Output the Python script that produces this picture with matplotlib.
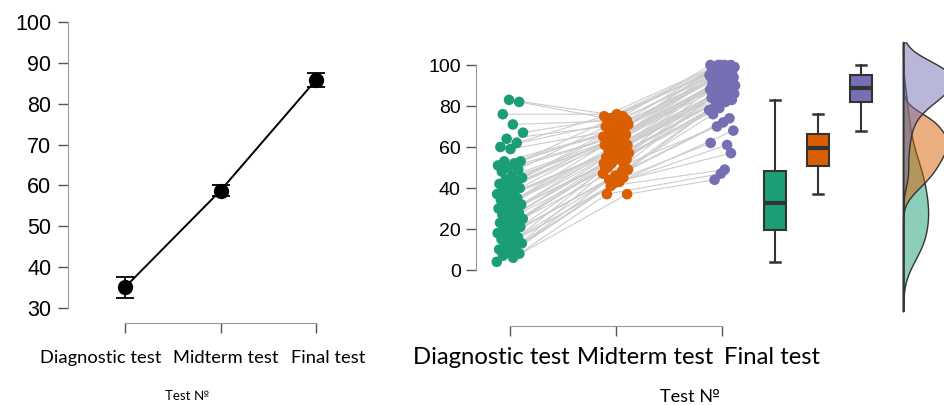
import numpy as np
import matplotlib.pyplot as plt
from matplotlib.colors import to_rgba

tests = ["Diagnostic test", "Midterm test", "Final test"]

# one score per student, students in the same order in all three lists
diagnostic = [4, 6, 7, 8, 9, 10, 11, 12, 13, 14, 15, 16, 17, 18, 19, 20, 21, 22, 23, 24,
              25, 25, 26, 27, 28, 29, 30, 30, 31, 32, 33, 34, 35, 36, 37, 38, 39, 40, 41, 42,
              43, 44, 45, 46, 48, 49, 50, 51, 52, 53, 53, 59, 60, 62, 64, 67, 71, 76, 82, 83]
midterm = [41, 37, 43, 37, 45, 42, 47, 43, 44, 49, 46, 50, 48, 52, 49, 54, 50, 51, 55, 52,
           57, 53, 54, 58, 55, 56, 60, 57, 59, 58, 62, 59, 61, 60, 64, 61, 63, 62, 66, 63,
           65, 64, 68, 66, 65, 70, 66, 67, 71, 68, 73, 69, 72, 75, 71, 74, 73, 76, 74, 75]
final = [49, 44, 57, 47, 62, 61, 70, 68, 72, 76, 74, 79, 78, 82, 80, 83, 82, 84, 85, 83,
         86, 84, 85, 87, 86, 88, 89, 87, 89, 88, 91, 89, 90, 90, 93, 91, 92, 92, 94, 93,
         95, 94, 96, 94, 95, 97, 95, 96, 98, 97, 99, 98, 98, 100, 99, 100, 99, 100, 100, 100]

colors = ["#1B9E77", "#D95F02", "#7570B3"]
label_font = ["Lato", "DejaVu Sans"]

W, H = 944, 405
fig = plt.figure(figsize=(W / 100, H / 100), dpi=100)


def add_ax(left, top, right, bottom):
    return fig.add_axes([left / W, 1 - bottom / H, (right - left) / W, (bottom - top) / H])


def put_text(x, y, s, size):
    fig.text(x / W, 1 - y / H, s, ha="center", va="center", fontsize=size, family=label_font)


scores = [np.array(diagnostic), np.array(midterm), np.array(final)]
pos = np.arange(3)

# ---- left: mean +- standard error
ax1 = add_ax(68, 22, 345, 323)
means = [s.mean() for s in scores]
sems = [s.std(ddof=1) / np.sqrt(len(s)) for s in scores]
ax1.errorbar(pos, means, yerr=sems, color="black", marker="o", ms=10, lw=1.4,
             elinewidth=1.3, capsize=6.5, capthick=1.3)
ax1.set_xlim(-0.597, 2.303)
ax1.set_ylim(26.33, 100)
ax1.set_yticks(np.arange(30, 101, 10))
ax1.set_xticks(pos)
ax1.set_xticklabels([])
for side in ["top", "right"]:
    ax1.spines[side].set_visible(False)
ax1.spines["left"].set_bounds(30, 100)
ax1.spines["bottom"].set_bounds(0, 2)
for side in ["left", "bottom"]:
    ax1.spines[side].set_color("#999999")
ax1.tick_params(direction="out", length=7, width=1, color="#555555", labelsize=15.5, pad=5)
for t in ax1.get_yticklabels():
    t.set_family("Liberation Sans")

for x, s in zip([101, 226, 328], tests):
    put_text(x, 358, s, 13.2)
put_text(187, 396, "Test №", 9.5)

# ---- right: paired points, boxplots, half densities
ax2 = add_ax(476, 40.4, 944, 326)
n = len(diagnostic)
xs = np.array([k + ((np.arange(n) * 0.618 + 0.3 * k) % 1 - 0.5) * 0.25 for k in range(3)])
ys = np.array(scores)
ax2.plot(xs, ys, color="#cccccc", lw=0.8, zorder=1)
for k in range(3):
    ax2.scatter(xs[k], ys[k], s=58, color=colors[k], edgecolors="none", zorder=3)

bp = ax2.boxplot(scores, positions=[2.50, 2.906, 3.311], widths=0.21, patch_artist=True,
                 showfliers=False, capwidths=0.1,
                 boxprops=dict(edgecolor="#333333", lw=1.5),
                 medianprops=dict(color="#333333", lw=3),
                 whiskerprops=dict(color="#333333", lw=1.5),
                 capprops=dict(color="#333333", lw=1.8))
for box, c in zip(bp["boxes"], colors):
    box.set_facecolor(c)

base = 3.708
grid = np.linspace(-20, 111, 400)
dens = []
for s in scores:
    bw = s.std(ddof=1) * len(s) ** (-1 / 5)
    d = np.exp(-0.5 * ((grid[:, None] - s[None, :]) / bw) ** 2).sum(axis=1)
    dens.append(d / (len(s) * bw * np.sqrt(2 * np.pi)))
scale = 0.236 / dens[0].max()
for d, c in zip(dens, colors):
    ax2.fill_betweenx(grid, base, base + d * scale, facecolor=to_rgba(c, 0.5),
                      edgecolor="#333333", lw=1, zorder=2)
ax2.plot([base, base], [grid[0], grid[-1]], color="#333333", lw=1, zorder=2)

ax2.set_xlim(-0.321, 4.094)
ax2.set_ylim(-27.3, 112)
ax2.set_yticks(np.arange(0, 101, 20))
ax2.set_xticks(pos)
ax2.set_xticklabels([])
for side in ["top", "right"]:
    ax2.spines[side].set_visible(False)
ax2.spines["left"].set_bounds(0, 100)
ax2.spines["bottom"].set_bounds(0, 2)
for side in ["left", "bottom"]:
    ax2.spines[side].set_color("#999999")
ax2.tick_params(direction="out", length=7, width=1, color="#555555", labelsize=14, pad=4)
for t in ax2.get_yticklabels():
    t.set_family("Liberation Sans")

for x, s in zip([491, 645, 772], tests):
    put_text(x, 357, s, 17.2)
put_text(690, 397, "Test №", 13)

fig.savefig("out.png", dpi=100)
